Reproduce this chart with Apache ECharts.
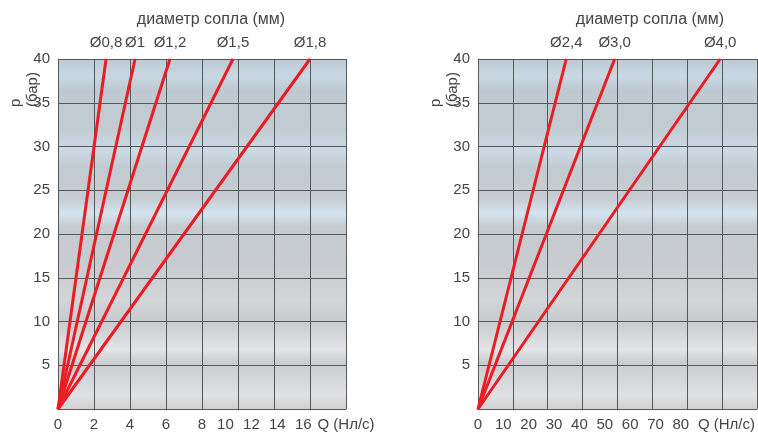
<!DOCTYPE html>
<html>
<head>
<meta charset="utf-8">
<script src="https://cdn.jsdelivr.net/npm/echarts@6/dist/echarts.min.js"></script>
<style>
html,body{margin:0;padding:0;background:#fff;}
#c{width:758px;height:432px;}
</style>
</head>
<body>
<div id="c"></div>
<script>
// ---- data ----
const leftNames = ['Ø0,8', 'Ø1', 'Ø1,2', 'Ø1,5', 'Ø1,8'];
const leftQat40 = [2.67, 4.28, 6.22, 9.72, 14.0];      // flow at 40 bar (grid scale)
const rightNames = ['Ø2,4', 'Ø3,0', 'Ø4,0'];
const rightQat40 = [34.8, 53.9, 95.5];                 // flow at 40 bar (label scale)
const pMax = 40;
const leftXTicksA = [0, 2, 4, 6, 8];
const leftXTicksB = [10, 12, 14, 16];
const rightXTicks = [0, 10, 20, 30, 40, 50, 60, 70, 80];
const yTicks = [5, 10, 15, 20, 25, 30, 35, 40];
const titleText = 'диаметр сопла (мм)';
const xName = 'Q (Нл/с)';
const yName = 'p\n(бар)';

const txt = '#444';
const gridCol = '#585858';
const red = '#ec1c24';
const font = 'Liberation Sans, Arial, sans-serif';

const bg = {
  type: 'linear', x: 0, y: 0, x2: 0, y2: 1,
  colorStops: [
    {offset: 0.00, color: '#bcc9d2'},
    {offset: 0.05, color: '#c8d8e2'},
    {offset: 0.09, color: '#bec9d1'},
    {offset: 0.20, color: '#c3ccd3'},
    {offset: 0.26, color: '#cbdae4'},
    {offset: 0.31, color: '#c2cbd2'},
    {offset: 0.40, color: '#c6ccd1'},
    {offset: 0.44, color: '#d4e4ef'},
    {offset: 0.48, color: '#c5cbd0'},
    {offset: 0.60, color: '#c9ccd0'},
    {offset: 0.69, color: '#d3d6d8'},
    {offset: 0.75, color: '#c8cbce'},
    {offset: 0.83, color: '#e2e4e6'},
    {offset: 0.87, color: '#cacdd0'},
    {offset: 0.96, color: '#dfe1e3'},
    {offset: 1.00, color: '#d0d2d4'}
  ]
};

const labelStyle = {color: txt, fontSize: 15, fontFamily: font};

function mkSeries(names, vals, xi, yi) {
  return names.map((n, i) => ({
    type: 'line', name: n, xAxisIndex: xi, yAxisIndex: yi,
    data: [[0, 0], [vals[i], pMax]],
    symbol: 'circle', symbolSize: 1, showSymbol: true,
    itemStyle: {color: red},
    lineStyle: {color: red, width: 3},
    label: {show: true, position: 'top', distance: 8, ...labelStyle,
      formatter: p => p.dataIndex === 1 ? p.seriesName : ''},
    emphasis: {disabled: true},
    animation: false
  }));
}

const yAxisBase = (gi) => ({
  type: 'value', gridIndex: gi, min: 0, max: pMax, interval: 5,
  axisLine: {show: true, lineStyle: {color: gridCol}},
  axisTick: {show: false},
  splitLine: {show: true, lineStyle: {color: gridCol, width: 1}},
  axisLabel: {...labelStyle, margin: 8, customValues: yTicks}
});

const option = {
  animation: false,
  textStyle: {fontFamily: font},
  title: [
    {text: titleText, left: 206, top: 7, textAlign: 'center',
     textStyle: {color: txt, fontSize: 16, fontWeight: 'normal', fontFamily: font}},
    {text: titleText, left: 645, top: 7, textAlign: 'center',
     textStyle: {color: txt, fontSize: 16, fontWeight: 'normal', fontFamily: font}}
  ],
  grid: [
    {left: 58, top: 59, width: 288, height: 350, show: true, backgroundColor: bg, borderWidth: 0},
    {left: 478, top: 59, width: 288, height: 350, show: true, backgroundColor: bg, borderWidth: 0}
  ],
  xAxis: [
    {type: 'value', gridIndex: 0, position: 'bottom', min: 0, max: 16, interval: 2,
     axisLine: {show: true, lineStyle: {color: gridCol}}, axisTick: {show: false},
     splitLine: {show: true, lineStyle: {color: gridCol, width: 1}},
     axisLabel: {...labelStyle, margin: 8, customValues: leftXTicksA}},
    {type: 'value', gridIndex: 0, position: 'bottom', min: -2.92, max: 19.3,
     axisLine: {show: false}, axisTick: {show: false}, splitLine: {show: false},
     axisLabel: {...labelStyle, margin: 8, customValues: leftXTicksB},
     name: xName, nameLocation: 'end', nameGap: -34,
     nameTextStyle: {...labelStyle, verticalAlign: 'top', padding: [8, 0, 0, 0]}},
    {type: 'value', gridIndex: 1, position: 'bottom', min: 0, max: 8, interval: 1,
     axisLine: {show: true, lineStyle: {color: gridCol}}, axisTick: {show: false},
     splitLine: {show: true, lineStyle: {color: gridCol, width: 1}},
     axisLabel: {show: false}},
    {type: 'value', gridIndex: 1, position: 'bottom', min: 0, max: 110,
     axisLine: {show: false}, axisTick: {show: false}, splitLine: {show: false},
     axisLabel: {...labelStyle, margin: 8, customValues: rightXTicks},
     name: xName, nameLocation: 'end', nameGap: -59,
     nameTextStyle: {...labelStyle, verticalAlign: 'top', padding: [8, 0, 0, 0]}}
  ],
  yAxis: [yAxisBase(0), yAxisBase(1)],
  graphic: [
    {type: 'text', x: 7, y: 107, rotation: Math.PI / 2,
     style: {text: yName, fill: txt, fontSize: 15, fontFamily: font, lineHeight: 17,
             align: 'left', verticalAlign: 'top'}},
    {type: 'text', x: 427, y: 107, rotation: Math.PI / 2,
     style: {text: yName, fill: txt, fontSize: 15, fontFamily: font, lineHeight: 17,
             align: 'left', verticalAlign: 'top'}}
  ],
  series: [...mkSeries(leftNames, leftQat40, 0, 0), ...mkSeries(rightNames, rightQat40, 3, 1)]
};

const chart = echarts.init(document.getElementById('c'), null, {renderer: 'canvas'});
chart.setOption(option);
</script>
</body>
</html>
